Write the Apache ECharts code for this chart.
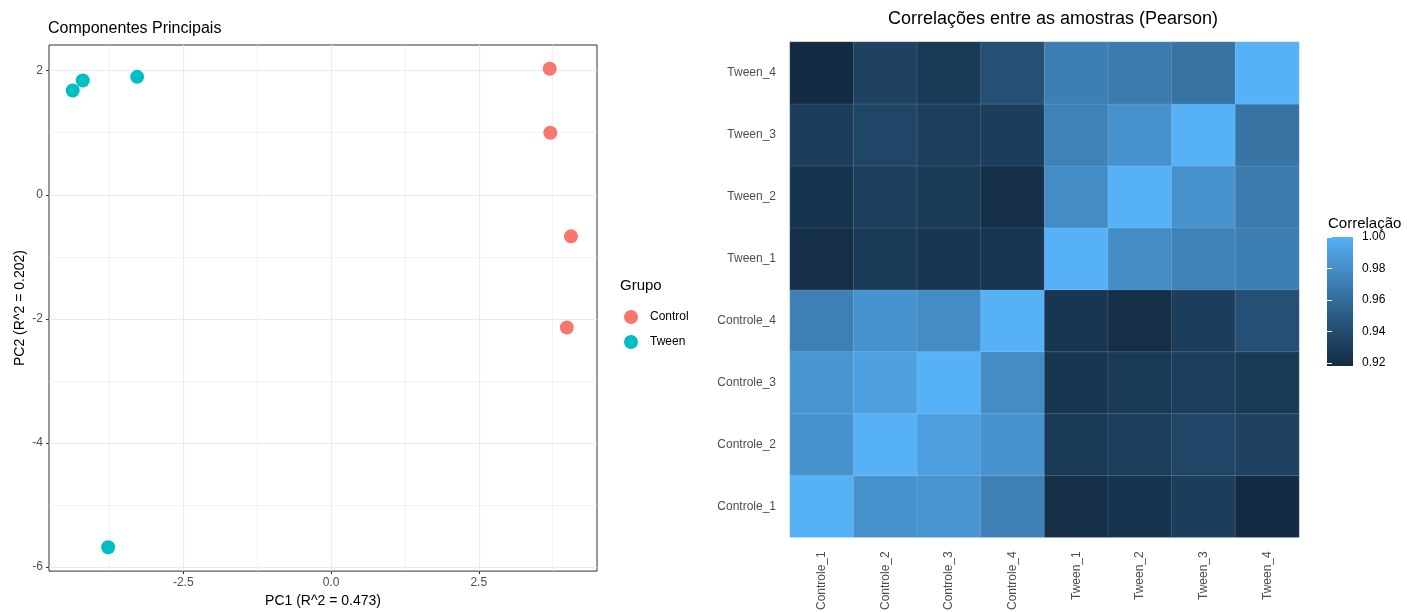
<!DOCTYPE html>
<html>
<head>
<meta charset="utf-8">
<script src="https://cdn.jsdelivr.net/npm/echarts@6/dist/echarts.min.js"></script>
<style>
    html, body { margin: 0; padding: 0; background: #fff; }
    #chart { width: 1407px; height: 613px; }
</style>
</head>
<body>
<div id="chart"></div>
<script>
// PCA scores
var controlX = [3.70, 3.71, 4.06, 3.99];
var controlY = [2.03, 1.00, -0.67, -2.14];
var tweenX = [-4.37, -4.20, -3.28, -3.77];
var tweenY = [1.68, 1.84, 1.90, -5.68];
var pcaXTicks = [-2.5, 0, 2.5];
var pcaYTicks = [2, 0, -2, -4, -6];
var pcaXMinor = [-3.75, -1.25, 1.25, 3.75];
var pcaYMinor = [1, -1, -3, -5];

// correlation matrix, rows = y (bottom to top), columns = x
var samples = ['Controle_1', 'Controle_2', 'Controle_3', 'Controle_4', 'Tween_1', 'Tween_2', 'Tween_3', 'Tween_4'];
var corrRows = [
    [1.000, 0.982, 0.984, 0.972, 0.921, 0.924, 0.930, 0.918],
    [0.982, 1.000, 0.990, 0.983, 0.928, 0.931, 0.936, 0.934],
    [0.984, 0.990, 1.000, 0.979, 0.925, 0.928, 0.931, 0.928],
    [0.972, 0.983, 0.979, 1.000, 0.925, 0.921, 0.930, 0.942],
    [0.921, 0.928, 0.925, 0.925, 1.000, 0.979, 0.973, 0.971],
    [0.924, 0.931, 0.928, 0.921, 0.979, 1.000, 0.982, 0.969],
    [0.930, 0.936, 0.931, 0.930, 0.973, 0.982, 1.000, 0.964],
    [0.918, 0.934, 0.928, 0.942, 0.971, 0.969, 0.964, 1.000]
];
var corrTicks = [0.92, 0.94, 0.96, 0.98, 1.00];
var corrMin = 0.918, corrMax = 1.0;

// ggplot style gradient, interpolated in Lab
function toLin(c) { c /= 255; return c <= 0.04045 ? c / 12.92 : Math.pow((c + 0.055) / 1.055, 2.4); }
function toSrgb(c) {
    c = c <= 0.0031308 ? 12.92 * c : 1.055 * Math.pow(c, 1 / 2.4) - 0.055;
    return Math.round(Math.max(0, Math.min(1, c)) * 255);
}
function hexToLab(hex) {
    var r = toLin(parseInt(hex.substr(1, 2), 16)), g = toLin(parseInt(hex.substr(3, 2), 16)), b = toLin(parseInt(hex.substr(5, 2), 16));
    var X = (0.4124 * r + 0.3576 * g + 0.1805 * b) / 0.95047;
    var Y = 0.2126 * r + 0.7152 * g + 0.0722 * b;
    var Z = (0.0193 * r + 0.1192 * g + 0.9505 * b) / 1.08883;
    var f = function (t) { return t > 0.008856 ? Math.cbrt(t) : 7.787 * t + 16 / 116; };
    return [116 * f(Y) - 16, 500 * (f(X) - f(Y)), 200 * (f(Y) - f(Z))];
}
function labToHex(lab) {
    var fy = (lab[0] + 16) / 116, fx = fy + lab[1] / 500, fz = fy - lab[2] / 200;
    var inv = function (t) { return t * t * t > 0.008856 ? t * t * t : (t - 16 / 116) / 7.787; };
    var X = 0.95047 * inv(fx), Y = inv(fy), Z = 1.08883 * inv(fz);
    var r = toSrgb(3.2406 * X - 1.5372 * Y - 0.4986 * Z);
    var g = toSrgb(-0.9689 * X + 1.8758 * Y + 0.0415 * Z);
    var b = toSrgb(0.0557 * X - 0.2040 * Y + 1.0570 * Z);
    return '#' + [r, g, b].map(function (v) { return ('0' + v.toString(16)).slice(-2); }).join('');
}
function labGradient(from, to, n) {
    var a = hexToLab(from), b = hexToLab(to), out = [];
    for (var i = 0; i < n; i++) {
        var t = i / (n - 1);
        out.push(labToHex([a[0] + (b[0] - a[0]) * t, a[1] + (b[1] - a[1]) * t, a[2] + (b[2] - a[2]) * t]));
    }
    return out;
}

function zip(xs, ys) {
    return xs.map(function (x, i) { return [x, ys[i]]; });
}

var heatColors = labGradient('#132B43', '#56B1F7', 11);

var heatData = [];
corrRows.forEach(function (row, i) {
    row.forEach(function (v, j) { heatData.push([j, i, v]); });
});

var gridLines = [];
pcaXTicks.forEach(function (v) { gridLines.push({ xAxis: v, lineStyle: { width: 1.1 } }); });
pcaYTicks.forEach(function (v) { gridLines.push({ yAxis: v, lineStyle: { width: 1.1 } }); });
pcaXMinor.forEach(function (v) { gridLines.push({ xAxis: v, lineStyle: { width: 0.6 } }); });
pcaYMinor.forEach(function (v) { gridLines.push({ yAxis: v, lineStyle: { width: 0.6 } }); });

// colorbar fill, bottom (low) to top (high)
var barStops = heatColors.map(function (c, i) {
    return { offset: i / (heatColors.length - 1), color: c };
});

var FONT = 'Liberation Sans';
var chart = echarts.init(document.getElementById('chart'));

chart.setOption({
    animation: false,
    textStyle: { fontFamily: FONT },
    title: [
        { text: 'Componentes Principais', left: 43, top: 16, textStyle: { fontSize: 16, fontWeight: 'normal', color: '#000', fontFamily: FONT } },
        { text: 'Correlações entre as amostras (Pearson)', left: 1048, top: 5, textAlign: 'center', textStyle: { fontSize: 18, fontWeight: 'normal', color: '#000', fontFamily: FONT } },
        { text: 'Grupo', left: 615, top: 273, textStyle: { fontSize: 15, fontWeight: 'normal', color: '#000', fontFamily: FONT } },
        { text: 'Correlação', left: 1323, top: 211, textStyle: { fontSize: 15, fontWeight: 'normal', color: '#000', fontFamily: FONT } }
    ],
    legend: {
        orient: 'vertical',
        left: 619,
        top: 305,
        icon: 'circle',
        itemWidth: 28,
        itemHeight: 14,
        itemGap: 11,
        data: ['Control', 'Tween'],
        textStyle: { fontSize: 12, color: '#000', fontFamily: FONT }
    },
    grid: [
        { left: 49, top: 45, width: 548, height: 533, show: true, borderColor: '#333', borderWidth: 1, backgroundColor: '#fff' },
        { left: 790, top: 42, width: 509, height: 496 },
        {
            left: 1327, top: 237, width: 26, height: 129, show: true, borderWidth: 0,
            backgroundColor: new echarts.graphic.LinearGradient(0, 1, 0, 0, barStops)
        }
    ],
    xAxis: [
        {
            type: 'value', gridIndex: 0, min: -4.771, max: 4.50,
            name: 'PC1 (R^2 = 0.473)', nameLocation: 'middle', nameGap: 20,
            nameTextStyle: { fontSize: 14, color: '#000', fontFamily: FONT },
            axisLine: { show: false, onZero: false },
            axisTick: { show: true, customValues: pcaXTicks, length: 3, lineStyle: { color: '#333' } },
            axisLabel: { customValues: pcaXTicks, margin: 6, fontSize: 12, color: '#4d4d4d', formatter: function (v) { return v.toFixed(1); } },
            splitLine: { show: false }
        },
        {
            type: 'category', gridIndex: 1, data: samples,
            axisLine: { show: false }, axisTick: { show: false },
            axisLabel: { rotate: 90, margin: 14, fontSize: 12, color: '#4d4d4d' },
            splitLine: { show: false }
        },
        { type: 'value', gridIndex: 2, show: false, min: 0, max: 1 }
    ],
    yAxis: [
        {
            type: 'value', gridIndex: 0, min: -6.064, max: 2.413,
            name: 'PC2 (R^2 = 0.202)', nameLocation: 'middle', nameGap: 22,
            nameTextStyle: { fontSize: 14, color: '#000', fontFamily: FONT },
            axisLine: { show: false, onZero: false },
            axisTick: { show: true, customValues: pcaYTicks, length: 3, lineStyle: { color: '#333' } },
            axisLabel: { customValues: pcaYTicks, margin: 6, fontSize: 12, color: '#4d4d4d' },
            splitLine: { show: false }
        },
        {
            type: 'category', gridIndex: 1, data: samples,
            axisLine: { show: false }, axisTick: { show: false },
            axisLabel: { margin: 14, fontSize: 12, color: '#4d4d4d' },
            splitLine: { show: false }
        },
        {
            type: 'value', gridIndex: 2, min: corrMin, max: corrMax, position: 'right',
            axisLine: { show: false },
            axisTick: { show: true, inside: true, customValues: corrTicks, length: 5, lineStyle: { color: '#fff', width: 1 } },
            axisLabel: { customValues: corrTicks, margin: 9, fontSize: 12, color: '#000', formatter: function (v) { return v.toFixed(2); } },
            splitLine: { show: false }
        },
        {
            type: 'value', gridIndex: 2, min: corrMin, max: corrMax, position: 'left',
            axisLine: { show: false },
            axisTick: { show: true, inside: true, customValues: corrTicks, length: 5, lineStyle: { color: '#fff', width: 1 } },
            axisLabel: { show: false },
            splitLine: { show: false }
        }
    ],
    visualMap: {
        type: 'continuous',
        show: false,
        min: corrMin, max: corrMax,
        seriesIndex: 3,
        inRange: { color: heatColors }
    },
    series: [
        {
            type: 'scatter', xAxisIndex: 0, yAxisIndex: 0, data: [], silent: true, z: 1,
            markLine: {
                z: 1,
                silent: true, symbol: 'none', label: { show: false },
                lineStyle: { color: '#ebebeb', type: 'solid' },
                data: gridLines
            }
        },
        {
            name: 'Control', type: 'scatter', xAxisIndex: 0, yAxisIndex: 0, z: 3,
            symbolSize: 14, itemStyle: { color: '#F8766D', opacity: 1 },
            data: zip(controlX, controlY)
        },
        {
            name: 'Tween', type: 'scatter', xAxisIndex: 0, yAxisIndex: 0, z: 3,
            symbolSize: 14, itemStyle: { color: '#00BFC4', opacity: 1 },
            data: zip(tweenX, tweenY)
        },
        {
            type: 'heatmap', xAxisIndex: 1, yAxisIndex: 1,
            itemStyle: { borderColor: 'rgba(255,255,255,0.25)', borderWidth: 0.5 },
            emphasis: { disabled: true },
            data: heatData
        }
    ]
});
</script>
</body>
</html>
